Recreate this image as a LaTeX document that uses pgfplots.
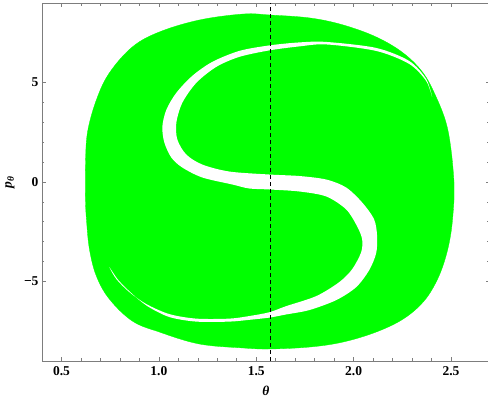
\documentclass[border=0pt]{standalone}
\usepackage{fontspec}
\setmainfont{Liberation Serif}
\usepackage{pgfplots}
\pgfplotsset{compat=1.18}
\definecolor{mgreen}{RGB}{0,255,0}
\definecolor{framegray}{RGB}{125,125,125}
\newcommand{\tl}[1]{\fontsize{13.5}{15}\selectfont\bfseries #1}
\begin{document}
\begin{tikzpicture}
\begin{axis}[
  name=ax,
  at={(0pt,0pt)}, anchor=south west,
  scale only axis,
  width=448pt, height=358pt,
  xmin=0.4, xmax=2.7, ymin=-9, ymax=9,
  axis line style={framegray, line width=0.8pt},
  tick style={framegray, line width=0.6pt},
  tick align=inside,
  major tick length=4pt, minor tick length=2.5pt,
  xtick={0.5,1.0,1.5,2.0,2.5},
  xticklabels={\tl{0.5},\tl{1.0},\tl{1.5},\tl{2.0},\tl{2.5}},
  ytick={-5,0,5},
  yticklabels={\tl{−5},\tl{0},\tl{5}},
  minor x tick num=4, minor y tick num=4,
  ticklabel style={text=black},
  xticklabel style={yshift=-2pt},
  every axis x label/.style={at={(axis description cs:0.5,0)}, anchor=center, yshift=-30pt},
  every axis y label/.style={at={(axis description cs:0,0.5)}, anchor=center, xshift=-32pt, rotate=90},
  xlabel={\fontsize{13.5}{15}\selectfont\bfseries\itshape θ},
  ylabel={\fontsize{13.5}{15}\selectfont\bfseries\itshape p\textsubscript{θ}},
]
% outer green region
\addplot[fill=mgreen, draw=mgreen, line width=0.3pt, smooth cycle, tension=0.6] coordinates {
(1.4333,8.446) (1.5718,8.396) (1.7769,8.246) (1.9462,7.895) (2.1154,7.293)
(2.2538,6.491) (2.3564,5.489) (2.4231,4.286) (2.4744,2.982) (2.5000,1.629)
(2.5154,-0.025) (2.5154,-0.877) (2.5000,-2.531) (2.4692,-3.885) (2.4231,-5.038)
(2.3564,-6.040) (2.2538,-6.892) (2.1154,-7.544) (1.9462,-8.045) (1.7769,-8.296)
(1.5718,-8.396) (1.4333,-8.346) (1.2077,-8.145) (1.0026,-7.544) (0.8641,-6.992)
(0.7462,-5.890) (0.6795,-4.737) (0.6436,-3.383) (0.6282,-1.880) (0.6231,-0.877)
(0.6231,0.777) (0.6333,2.481) (0.6795,4.135) (0.7462,5.489) (0.8641,6.792)
(1.0026,7.544) (1.2077,8.145)
};
% white S-shaped gap
\addplot[fill=white, draw=none, smooth cycle, tension=0.5] coordinates {
(2.4026,4.286) (2.3718,5.188) (2.2846,6.090) (2.1154,6.742) (1.8590,7.043)
(1.7205,7.018) (1.5667,6.867) (1.4128,6.591) (1.2744,6.040) (1.1718,5.338)
(1.0897,4.486) (1.0385,3.634) (1.0179,2.782) (1.0282,1.980) (1.0641,1.228)
(1.1205,0.727) (1.2231,0.226) (1.3769,-0.125) (1.4641,-0.326) (1.5667,-0.376)
(1.7205,-0.476) (1.8590,-0.727) (1.9615,-1.378) (2.0179,-2.231) (2.0436,-2.882)
(2.0385,-3.534) (1.9923,-4.386) (1.9256,-5.038) (1.8077,-5.739) (1.6538,-6.241)
(1.5667,-6.550) (1.4641,-6.740) (1.3615,-6.870) (1.1923,-6.870) (1.0538,-6.642) (0.9359,-6.140)
(0.8487,-5.539) (0.7821,-4.887) (0.7462,-4.286)
(0.7923,-4.937) (0.8590,-5.589) (0.9410,-6.241) (1.0538,-6.790) (1.1923,-7.020)
(1.3615,-7.020) (1.4641,-6.930) (1.5667,-6.820) (1.6538,-6.660) (1.7718,-6.441) (1.9103,-5.940)
(2.0128,-5.288) (2.0795,-4.436) (2.1154,-3.584) (2.1205,-2.732) (2.1051,-1.880)
(2.0436,-1.028) (1.9615,-0.276) (1.8590,0.125) (1.7205,0.301) (1.5667,0.376)
(1.3615,0.526) (1.2231,0.877) (1.1410,1.378) (1.0949,2.130) (1.0897,2.982)
(1.1205,3.985) (1.1923,4.987) (1.2949,5.789) (1.4128,6.291) (1.5667,6.617)
(1.7205,6.817) (1.8590,6.917) (2.1154,6.591) (2.2846,5.940) (2.3718,5.088)
};
% dashed line at pi/2
\addplot[black, dashed, line width=0.7pt, dash pattern=on 4pt off 3pt] coordinates {(1.5708,-9) (1.5708,9)};
\end{axis}
\pgfresetboundingbox
\useasboundingbox (-42pt,-42pt) rectangle (446pt,361pt);
\end{tikzpicture}
\end{document}
